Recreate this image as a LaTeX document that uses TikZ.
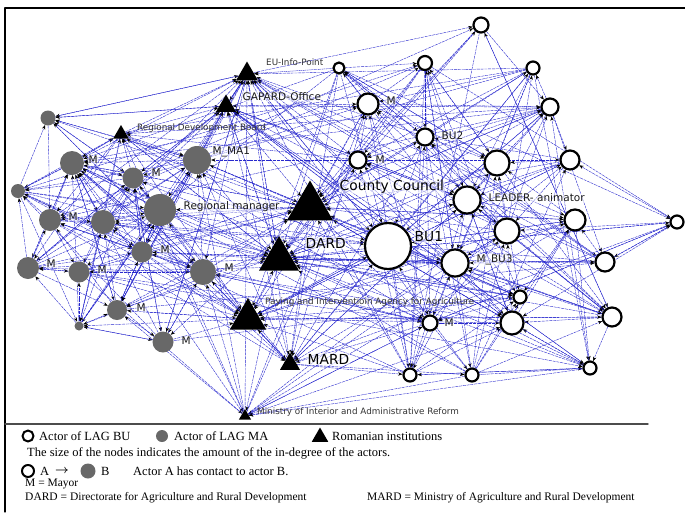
\documentclass[tikz,border=0pt]{standalone}
\usepackage{amsmath}
\usepackage{fontspec}
\setmainfont{Liberation Serif}
\newfontfamily\netfont{DejaVu Sans}
\usetikzlibrary{arrows.meta,shapes.geometric,backgrounds}

\definecolor{linkblue}{RGB}{40,40,205}
\definecolor{magray}{RGB}{104,104,104}

\tikzset{
  ma/.style={circle,fill=magray,inner sep=0pt},
  bu/.style={circle,draw=black,line width=2.2pt,fill=white,inner sep=0pt},
  inst/.style={regular polygon,regular polygon sides=3,fill=black,inner sep=0pt},
  link/.style={draw=linkblue,line width=0.4pt,dash pattern=on 3pt off 0.8pt,
    -{Stealth[length=4.3pt,width=3.4pt,black]}},
  lbls/.style={font=\netfont\fontsize{8.8}{10}\selectfont,text=black!80,anchor=west,inner sep=0pt},
  lblm/.style={font=\netfont\fontsize{10.5}{12}\selectfont,text=black!90,anchor=west,inner sep=0.5pt,
    fill=white,fill opacity=0.45,text opacity=1},
  lbll/.style={font=\netfont\fontsize{13.8}{16}\selectfont,anchor=west,inner sep=0.5pt,
    fill=white,fill opacity=0.55,text opacity=1},
  legtext/.style={font=\fontsize{12.5}{14}\selectfont,anchor=west,inner sep=0pt},
  legsmall/.style={font=\fontsize{11.5}{13}\selectfont,anchor=west,inner sep=0pt},
}

% name/x/y/size/group (1 = LAG MA, 2 = LAG BU, 3 = institution)
\def\netnodes{%
ma1/48/118/15/1, ma2/72/163/24/1, ma3/133/178/21/1, ma4/197/160/28/1,
ma5/18/191/14/1, ma6/50/220/22/1, ma7/103/222/24/1, ma8/160/210/32/1,
ma9/142/252/21/1, ma10/28/268/22/1, ma11/79/272/21/1, ma12/203/272/26/1,
ma13/117/310/20/1, ma14/79/326/9/1, ma15/163/342/21/1,
bu1/339/68/11/2, bu2/481/25/15/2, bu3/425/63/14/2, bu4/533/68/13/2,
bu5/368/104/21/2, bu6/550/107/17/2, bu7/425/137/17/2, bu8/358/160/17/2,
bu9/497/163/25/2, bu10/570/160/19/2, bu11/467/200/27/2, bu12/677/222/13/2,
bu13/388/246/46/2, bu14/507/231/25/2, bu15/575/220/21/2, bu16/455/263/27/2,
bu17/605/262/19/2, bu18/520/297/13/2, bu19/430/323/15/2, bu20/512/323/23/2,
bu21/612/317/19/2, bu22/410/375/13/2, bu23/472/375/13/2, bu24/590/368/13/2,
eu/247/74/25/3, gapard/226/106/23/3, rdb/121/134/18/3, cc/310/207/53/3,
dard/279/259/46/3, apia/248/319/42/3, mard/290/364/23/3, mai/245/416/14/3}

\begin{document}
\begin{tikzpicture}[line cap=round,line join=round,x=1pt,y=-1pt]
  \useasboundingbox (0,0) rectangle (685,512);
  \draw[line width=1.2pt] (685,8) -- (5,8) -- (5,512);
  \draw[line width=1.4pt,black!70] (5,424) -- (648,424);

  % actors
  \foreach \n/\x/\y/\d/\g in \netnodes {
    \ifcase\g\or
      \node[ma,minimum size=\d pt] (\n) at (\x,\y) {};
    \or
      \node[bu,minimum size=\d pt] (\n) at (\x,\y) {};
    \or
      \node[inst,minimum size=\d pt] (\n) at (\x,\y) {};
    \fi
  }

  % contacts
  \pgfmathsetseed{7}
  \begin{scope}[on background layer]
    \foreach \s/\xs/\ys/\ds/\gs in \netnodes {
      \foreach \t/\xt/\yt/\dt/\gt in \netnodes {
        \ifx\s\t\else
          \pgfmathsetmacro\pb{ifthenelse(\gs==3 || \gt==3, 0.27,
            ifthenelse(\gs==\gt, ifthenelse(\gs==1,0.4,0.28), 0.05))}
          \pgfmathtruncatemacro\hit{rnd < \pb*(\dt+10)/30}
          \ifnum\hit=1 \draw[link] (\s) -- (\t); \fi
        \fi
      }
    }
  \end{scope}

  % labels
  \foreach \n/\x/\y/\t in {eu/266/62/EU-Info-Point, rdb/137/128/Regional Development Board,
      apia/265/302/Paying and Interventioin Agency for Agriculture,
      mai/257/412/Ministry of Interior and Administrative Reform}
    \node[lbls] (\n-lab) at (\x,\y) {\t};
  \foreach \n/\x/\y/\t in {ma2/88/160/M, ma3/151/173/M, ma4/212/152/M\_MA1, ma6/68/217/M,
      ma8/183/207/Regional manager, ma9/160/250/M, ma10/46/264/M, ma11/97/270/M,
      ma12/224/268/M, ma13/136/308/M, ma15/181/341/M, bu5/386/101/M, bu7/441/136/BU2,
      bu8/375/160/M, bu11/488/198/LEADER- animator, bu16/476/260/M\_BU3, bu19/444/323/M,
      gapard/242/97/GAPARD-Office}
    \node[lblm] (\n-lab) at (\x,\y) {\t};
  \foreach \n/\x/\y/\t in {cc/339/187/County Council, dard/305/243/DARD,
      bu13/414/237/BU1, mard/307/359/MARD}
    \node[lbll] (\n-lab) at (\x,\y) {\t};

  % legend
  \node[bu,line width=2pt,minimum size=11pt] (lg-bu) at (28,436) {};
  \node[legtext] (lg-butext) at (39,436) {Actor of LAG BU};
  \node[ma,minimum size=12pt] (lg-ma) at (162,436) {};
  \node[legtext] (lg-matext) at (174,436) {Actor of LAG MA};
  \node[inst,minimum size=19pt] (lg-inst) at (320,437) {};
  \node[legtext] (lg-insttext) at (332,436) {Romanian institutions};
  \node[legtext] (lg-size) at (27,453) {The size of the nodes indicates the amount of the in-degree of the actors.};
  \node[bu,line width=2pt,minimum size=12pt] (lg-a) at (28,471) {};
  \node[legtext] (lg-atext) at (40,471) {A};
  \node[legtext] (lg-arrow) at (55,471) {$\boldsymbol{\rightarrow}$};
  \node[ma,minimum size=15pt] (lg-b) at (88,471) {};
  \node[legtext] (lg-btext) at (101,471) {B};
  \node[legtext] (lg-contact) at (133,471) {Actor A has contact to actor B.};
  \node[legsmall] (lg-mayor) at (25,484) {M = Mayor};
  \node[legsmall] (lg-dard) at (25,498) {DARD = Directorate for Agriculture and Rural Development};
  \node[legsmall] (lg-mard) at (367,498) {MARD = Ministry of Agriculture and Rural Development};
\end{tikzpicture}
\end{document}
